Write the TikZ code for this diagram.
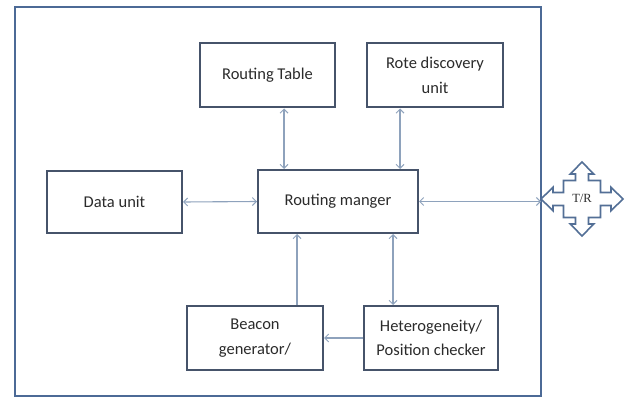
\documentclass[tikz,border=0pt]{standalone}
\usepackage{fontspec}
\setmainfont{Carlito}
\newfontfamily\trfont{Liberation Serif}
\usetikzlibrary{arrows.meta}
\definecolor{outerc}{HTML}{4C6A96}
\definecolor{boxc}{HTML}{46536A}
\definecolor{arrowc}{HTML}{8EA2BC}
\definecolor{trc}{HTML}{536F96}
\definecolor{textc}{HTML}{2B2B2B}
\tikzset{
  blk/.style={draw=boxc, line width=2pt, fill=white, inner sep=0pt, align=center,
    text=textc, font=\fontsize{16.5}{24.5}\selectfont},
  tip/.tip={Straight Barb[length=4pt,width=8pt,line width=1pt]},
  biarr/.style={draw=arrowc, line width=1.1pt, {tip}-{tip}},
  onearr/.style={draw=arrowc, line width=1.1pt, -{tip}},
}
\begin{document}
\begin{tikzpicture}[x=1pt,y=-1pt]
\useasboundingbox (0,0) rectangle (628,398);
\draw[outerc, line width=2pt] (15,7) rectangle (541,396);

\node[blk, minimum width=135pt, minimum height=64pt] (rt) at (267.5,75.5) {Routing Table};
\node[blk, minimum width=136pt, minimum height=64pt] (rd) at (435,75.5) {Rote discovery\\unit};
\node[blk, minimum width=135pt, minimum height=62pt] (du) at (114.5,202) {Data unit};
\node[blk, minimum width=160pt, minimum height=63pt] (mgr) at (338,201.5) {Routing manger};
\node[blk, minimum width=136pt, minimum height=64pt] (bg) at (255,338) {Beacon\\generator/};
\node[blk, minimum width=134pt, minimum height=64pt] (hp) at (431,338) {Heterogeneity/\\Position checker};

% T/R quad arrow
\begin{scope}[shift={(582,199)}]
\def\W{11.7}\def\S{6.5}\def\C{18.5}
\def\Th{41}\def\Bh{29}\def\Tv{37}\def\Bv{25}
\draw[trc, line width=1.6pt, fill=white, line join=miter]
 (0,-\Tv) -- (\W,-\Bv) -- (\S,-\Bv) -- (\S,-\C) -- (\C,-\C) -- (\C,-\S) -- (\Bh,-\S) -- (\Bh,-\W)
 -- (\Th,0) -- (\Bh,\W) -- (\Bh,\S) -- (\C,\S) -- (\C,\C) -- (\S,\C) -- (\S,\Bv) -- (\W,\Bv)
 -- (0,\Tv) -- (-\W,\Bv) -- (-\S,\Bv) -- (-\S,\C) -- (-\C,\C) -- (-\C,\S) -- (-\Bh,\S) -- (-\Bh,\W)
 -- (-\Th,0) -- (-\Bh,-\W) -- (-\Bh,-\S) -- (-\C,-\S) -- (-\C,-\C) -- (-\S,-\C) -- (-\S,-\Bv) -- (-\W,-\Bv) -- cycle;
\coordinate (trL) at (-\Th,0);
\end{scope}
\node[text=textc, font=\trfont\fontsize{12.5}{14}\selectfont, inner sep=0pt] (tr) at (582,198) {T/R};

% connectors
\draw[biarr] ([xshift=-54pt]mgr.north) -- ([xshift=-54pt]mgr.north |- rt.south);
\draw[biarr] ([xshift=62pt]mgr.north) -- ([xshift=62pt]mgr.north |- rd.south);
\draw[biarr] (du.east) -- (mgr.west);
\draw[biarr] (mgr.east) -- (mgr.east -| trL);
\draw[onearr] ([xshift=-41pt]mgr.south |- bg.north) -- ([xshift=-41pt]mgr.south);
\draw[biarr] ([xshift=55pt]mgr.south) -- ([xshift=55pt]mgr.south |- hp.north);
\draw[onearr] (hp.west) -- (bg.east);
\end{tikzpicture}
\end{document}
